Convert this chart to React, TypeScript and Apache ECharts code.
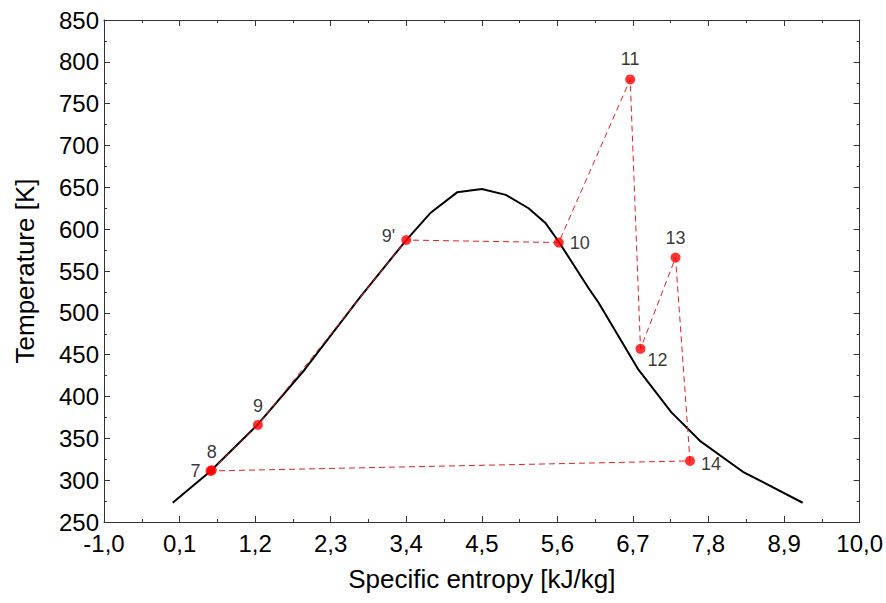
import React, { useEffect, useRef } from "react";
import * as echarts from "echarts";

// Saturation dome (black curve)
const domeEntropy = [0.0, 0.54, 1.22, 1.92, 2.72, 3.4, 3.76, 4.14, 4.5, 4.85, 5.18, 5.43, 5.62, 6.05, 6.2, 6.78, 7.26, 7.69, 8.3, 9.17];
const domeTemp = [273, 310, 365, 432, 518, 587, 620, 644, 648, 641, 625, 607, 585, 530, 512, 432, 381, 346, 310, 273];

// Cycle state points (red)
const stateNames = ["7", "8", "9", "9'", "10", "11", "12", "13", "14"];
const stateEntropy = [0.55, 0.57, 1.24, 3.4, 5.62, 6.66, 6.81, 7.32, 7.53];
const stateTemp = [311, 312, 366, 587, 584, 779, 457, 566, 323];

// Axis settings
const X_MIN = -1.0;
const X_MAX = 10.0;
const X_STEP = 1.1;
const Y_MIN = 250;
const Y_MAX = 850;
const Y_STEP = 50;

const xTitle = "Specific entropy [kJ/kg]";
const yTitle = "Temperature [K]";

// label placement per state point (style, not data)
const labelPlacement: Record<string, any> = {
  "7": { position: "left", distance: 5 },
  "8": { position: "top", distance: 4 },
  "9": { position: "top", distance: 5 },
  "9'": { position: "left", distance: 6, offset: [0, -4] },
  "10": { position: "right", distance: 6 },
  "11": { position: "top", distance: 6 },
  "12": { position: "right", distance: 2, offset: [0, 11] },
  "13": { position: "top", distance: 6 },
  "14": { position: "right", distance: 6, offset: [0, 3] },
};

const FONT = "'Liberation Sans', Arial, Helvetica, sans-serif";
const AXIS_COLOR = "#333";

export default function App() {
  const ref = useRef<HTMLDivElement>(null);
  useEffect(() => {
    if (!ref.current) return;
    const chart = echarts.init(ref.current, undefined, { renderer: "svg" });

    const dome = domeEntropy.map((s, i) => [s, domeTemp[i]]);
    const cycle = stateEntropy.map((s, i) => [s, stateTemp[i]]);
    const cycleClosed = [...cycle, cycle[0]];
    const points = stateNames.map((n, i) => ({
      name: n,
      value: [stateEntropy[i], stateTemp[i]],
      label: { show: true, formatter: n, ...labelPlacement[n] },
    }));

    const fmt = (v: number) => v.toFixed(1).replace(".", ",");

    const commonTick = {
      axisTick: { show: true, inside: true, length: 6, lineStyle: { color: AXIS_COLOR } },
      minorTick: { show: true, splitNumber: 2, length: 3, lineStyle: { color: AXIS_COLOR } },
      axisLine: { show: true, onZero: false, lineStyle: { color: AXIS_COLOR, width: 1 } },
      splitLine: { show: false },
      minorSplitLine: { show: false },
    };

    chart.setOption({
      animation: false,
      backgroundColor: "#fff",
      textStyle: { fontFamily: FONT },
      grid: { left: 104, right: 24, top: 20, bottom: 81 },
      xAxis: [
        {
          type: "value",
          min: X_MIN,
          max: X_MAX,
          interval: X_STEP,
          position: "bottom",
          name: xTitle,
          nameLocation: "middle",
          nameGap: 44,
          nameTextStyle: { fontSize: 26, color: "#000", fontFamily: FONT },
          axisLabel: { fontSize: 24, color: "#000", margin: 9, formatter: fmt, fontFamily: FONT },
          ...commonTick,
        },
        {
          type: "value",
          min: X_MIN,
          max: X_MAX,
          interval: X_STEP,
          position: "top",
          axisLabel: { show: false },
          ...commonTick,
        },
      ],
      yAxis: [
        {
          type: "value",
          min: Y_MIN,
          max: Y_MAX,
          interval: Y_STEP,
          position: "left",
          name: yTitle,
          nameLocation: "middle",
          nameGap: 66,
          nameTextStyle: { fontSize: 26, color: "#000", fontFamily: FONT },
          axisLabel: { fontSize: 24, color: "#000", margin: 5, fontFamily: FONT },
          ...commonTick,
        },
        {
          type: "value",
          min: Y_MIN,
          max: Y_MAX,
          interval: Y_STEP,
          position: "right",
          axisLabel: { show: false },
          ...commonTick,
        },
      ],
      series: [
        {
          type: "line",
          data: dome,
          showSymbol: false,
          symbol: "none",
          lineStyle: { color: "#000", width: 2 },
          z: 2,
        },
        {
          type: "line",
          data: cycleClosed,
          showSymbol: false,
          symbol: "none",
          lineStyle: { color: "#e02020", width: 1, type: [6, 4] },
          z: 3,
        },
        {
          type: "scatter",
          data: points,
          symbol: "circle",
          symbolSize: 10,
          itemStyle: { color: "#ff0000" },
          label: { show: true, fontSize: 18, color: "#000", fontFamily: FONT },
          z: 4,
        },
      ],
    });
    return () => chart.dispose();
  }, []);
  return (
    <div
      ref={ref}
      style={{ position: "absolute", left: 0, top: 0, width: 886, height: 603 }}
    />
  );
}
